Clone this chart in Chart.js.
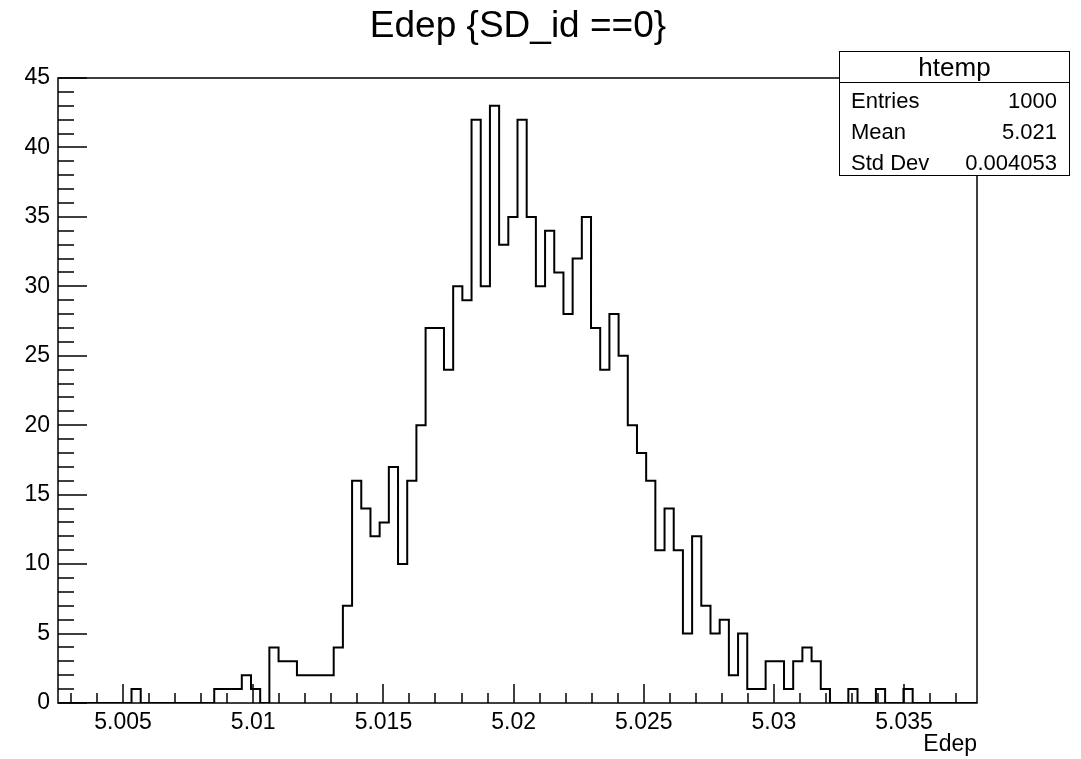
<!DOCTYPE html>
<html>
<head>
<meta charset="utf-8">
<script src="https://cdn.jsdelivr.net/npm/chart.js@4.4.1/dist/chart.umd.min.js"></script>
<style>
  html, body { margin:0; padding:0; background:#fff; }
  #wrap { position:relative; width:1081px; height:759px; font-family:"Liberation Sans", Arial, sans-serif; color:#000; }
  #title { position:absolute; left:0; top:6px; width:1036px; text-align:center; font-size:37px; line-height:37px; white-space:nowrap; }
  #stats { position:absolute; left:839px; top:51px; width:229px; height:123px; background:#fff; border:1.5px solid #000; font-size:22px; }
  #stats .head { position:absolute; left:0; right:0; top:0; height:30px; line-height:30px; text-align:center; font-size:26px; border-bottom:1.5px solid #000; }
  #stats .row { position:absolute; left:11px; right:12px; height:30px; line-height:30px; display:flex; justify-content:space-between; white-space:nowrap; }
</style>
</head>
<body>
<div id="wrap">
  <canvas id="histo" width="1081" height="759"></canvas>
  <div id="title">Edep {SD_id ==0}</div>
  <div id="stats"></div>
</div>
<script>
// histogramme htemp : 100 bins
const xMin = 5.0025, xMax = 5.0378;
const counts = [
  0,0,0,0,0,0,0,0,1,0,
  0,0,0,0,0,0,0,1,1,1,
  2,1,0,4,3,3,2,2,2,2,
  4,7,16,14,12,13,17,10,16,20,
  27,27,24,30,29,42,30,43,33,35,
  42,35,30,34,31,28,32,35,27,24,
  28,25,20,18,16,11,14,11,5,12,
  7,5,6,2,5,1,1,3,3,1,
  3,4,3,1,0,0,1,0,0,1,
  0,0,1,0,0,0,0,0,0,0
];
const yMax = 45;
const statLabels = ['Entries','Mean','Std Dev'];
const statValues = ['1000','5.021','0.004053'];

// boite de stats
const statsDiv = document.getElementById('stats');
const rowTops = [34, 65, 96];
statsDiv.innerHTML = '<div class="head">htemp</div>' + statLabels.map((l,i) => `<div class="row" style="top:${rowTops[i]}px"><span>${l}</span><span>${statValues[i]}</span></div>`).join('');

// points en escalier (bords des bins)
const binW = (xMax - xMin) / counts.length;
const pts = counts.map((c,i) => ({ x: xMin + i*binW, y: c }));
pts.push({ x: xMax, y: counts[counts.length-1] });

// cadre + ticks internes facon ROOT
const rootFrame = {
  id: 'rootFrame',
  afterDatasetsDraw(chart) {
    const { ctx, chartArea: a, scales: { x, y } } = chart;
    ctx.save();
    ctx.strokeStyle = '#000'; ctx.lineWidth = 1.5;
    ctx.strokeRect(a.left, a.top, a.right - a.left, a.bottom - a.top);
    ctx.beginPath();
    for (let v = 0; v <= yMax; v++) {
      const py = Math.round(y.getPixelForValue(v));
      const len = v % 5 === 0 ? 29 : 16;
      ctx.moveTo(a.left, py); ctx.lineTo(a.left + len, py);
    }
    for (let k = Math.ceil(xMin*1000); k <= Math.floor(xMax*1000); k++) {
      const px = Math.round(x.getPixelForValue(k/1000));
      const len = k % 5 === 0 ? 19 : 10;
      ctx.moveTo(px, a.bottom); ctx.lineTo(px, a.bottom - len);
    }
    ctx.stroke();
    ctx.restore();
  }
};

new Chart(document.getElementById('histo'), {
  type: 'line',
  data: { datasets: [{ data: pts, stepped: 'before', borderColor: '#000', borderWidth: 2, pointRadius: 0, fill: false, tension: 0 }] },
  options: {
    responsive: false, animation: false,
    layout: { padding: { top: 78, right: 104, left: 0, bottom: 0 } },
    plugins: { legend: { display: false }, tooltip: { enabled: false }, title: { display: false } },
    scales: {
      x: {
        type: 'linear', min: xMin, max: xMax,
        afterFit: s => { s.height = 56; },
        grid: { display: false, drawTicks: false }, border: { display: false },
        ticks: { stepSize: 0.005, includeBounds: false, autoSkip: false, maxRotation: 0, padding: 6, color: '#000',
                 font: { family: 'Liberation Sans', size: 23 }, callback: v => String(+v.toFixed(3)) },
        title: { display: true, text: 'Edep', align: 'end', color: '#000', padding: { top: 0, bottom: 1 },
                 font: { family: 'Liberation Sans', size: 23 } }
      },
      y: {
        min: 0, max: yMax,
        afterFit: s => { s.width = 58; },
        grid: { display: false, drawTicks: false }, border: { display: false },
        ticks: { stepSize: 5, padding: 8, color: '#000', font: { family: 'Liberation Sans', size: 23 } }
      }
    }
  },
  plugins: [rootFrame]
});
</script>
</body>
</html>
